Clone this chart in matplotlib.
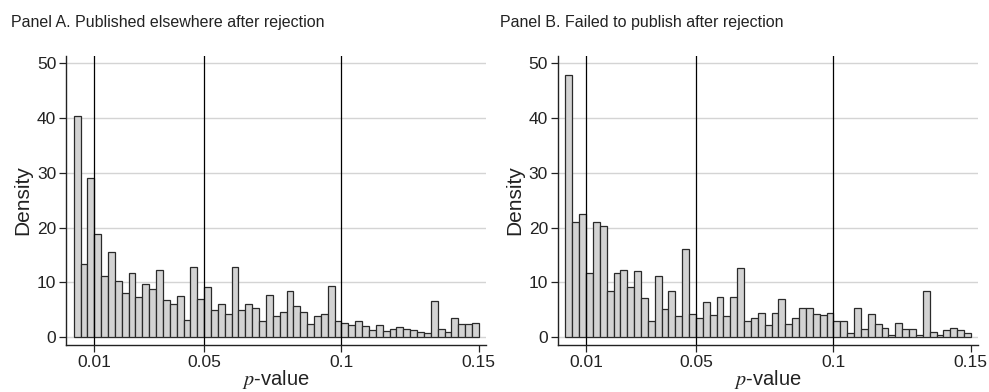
import numpy as np
import matplotlib
matplotlib.use("Agg")
import matplotlib.pyplot as plt

plt.rcParams['font.family'] = ['Liberation Sans', 'DejaVu Sans']
plt.rcParams['mathtext.fontset'] = 'stix'

# histogram bins: width 0.0025 starting at 0.0025, up to 0.15
bin_width = 0.0025
bin_start = 0.0025
n_bins = 59

# Panel A: published elsewhere after rejection (density)
published = [40.3, 13.4, 29.1, 18.9, 11.1, 15.5, 10.2, 8.0, 11.8, 7.4,
             9.7, 8.8, 12.2, 6.8, 6.1, 7.5, 3.1, 12.9, 6.9, 9.2,
             4.9, 6.1, 4.2, 12.9, 4.9, 6.1, 5.4, 3.0, 7.7, 3.8,
             4.6, 8.5, 5.8, 4.6, 2.4, 3.8, 4.3, 9.3, 2.9, 2.6,
             2.3, 3.0, 2.1, 1.4, 2.3, 1.1, 1.6, 1.9, 1.5, 1.3,
             1.0, 0.7, 6.6, 1.5, 1.0, 3.6, 2.4, 2.4, 2.6]

# Panel B: failed to publish after rejection (density)
failed = [47.8, 21.1, 22.5, 11.8, 21.0, 20.3, 8.4, 11.8, 12.3, 9.2,
          12.1, 7.2, 3.0, 11.2, 5.1, 8.4, 3.9, 16.1, 4.2, 3.6,
          6.4, 4.0, 7.4, 3.8, 7.4, 12.6, 3.0, 3.6, 4.4, 2.2,
          4.4, 7.0, 2.5, 3.5, 5.3, 5.3, 4.2, 4.0, 4.5, 2.9,
          2.9, 0.8, 5.3, 1.5, 4.2, 2.4, 1.7, 0.5, 2.7, 1.5,
          1.5, 0.4, 8.5, 0.9, 0.5, 1.3, 1.7, 1.4, 0.7]

titles = ['Panel A. Published elsewhere after rejection',
          'Panel B. Failed to publish after rejection']
ref_lines = [0.01, 0.05, 0.1]
xticks = [0.01, 0.05, 0.1, 0.15]
xtick_labels = ['0.01', '0.05', '0.1', '0.15']
yticks = [0, 10, 20, 30, 40, 50]

left_edges = bin_start + bin_width * np.arange(n_bins)

fig = plt.figure(figsize=(9.89, 3.92), dpi=100)
ax1 = fig.add_axes([0.0667, 0.1199, 0.4247, 0.7372])
ax2 = fig.add_axes([0.5639, 0.1199, 0.4250, 0.7372])

for ax, vals, title, tx in [(ax1, published, titles[0], 0.011),
                            (ax2, failed, titles[1], 0.506)]:
    ax.set_axisbelow(True)
    ax.yaxis.grid(True, color='#d4d4d4', linewidth=1.0)
    ax.bar(left_edges, vals, width=bin_width, align='edge',
           color='#d3d3d3', edgecolor='#2a2a2a', linewidth=0.9, zorder=2)
    for v in ref_lines:
        ax.axvline(v, color='black', linewidth=0.9, zorder=3)
    ax.set_xlim(-0.0003, 0.1526)
    ax.set_ylim(-1.4, 51.3)
    ax.set_xticks(xticks)
    ax.set_xticklabels(xtick_labels)
    ax.set_yticks(yticks)
    for s in ['top', 'right']:
        ax.spines[s].set_visible(False)
    for s in ['left', 'bottom']:
        ax.spines[s].set_color('#222222')
        ax.spines[s].set_linewidth(1.0)
    ax.tick_params(axis='both', direction='out', length=5, width=0.9,
                   color='#222222', labelsize=12.5, labelcolor='#222222', pad=2)
    ax.set_ylabel('Density', fontsize=15, color='#222222', labelpad=3)
    ax.set_xlabel(r'$p$-value', fontsize=14.5, color='#222222', labelpad=-1)
    fig.text(tx, 0.93, title, fontsize=11.5, color='#222222',
             ha='left', va='baseline')

fig.savefig('out.png', dpi=100)
